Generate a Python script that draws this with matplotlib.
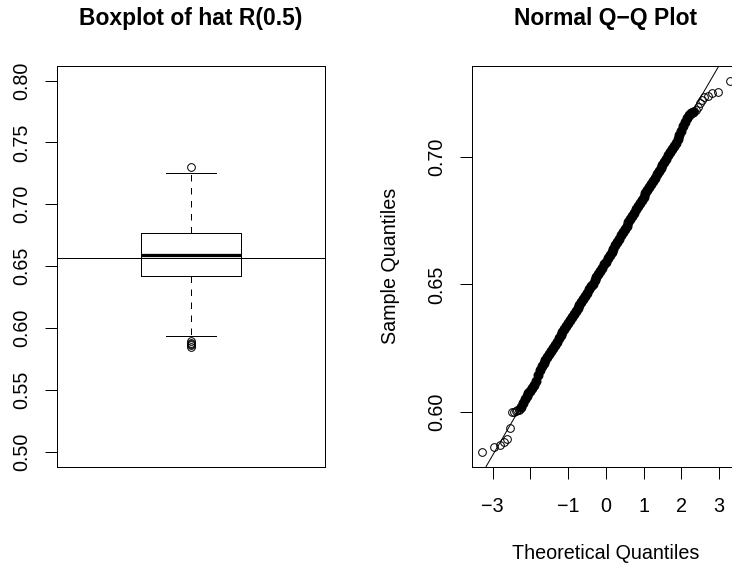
import matplotlib
matplotlib.use("Agg")
import matplotlib.pyplot as plt

plt.rcParams['font.family'] = ['Liberation Sans', 'DejaVu Sans']

# ---------------- data ----------------
# Boxplot of hat R(0.5)
box_whisker_low = 0.5935
box_q1 = 0.6422
box_median = 0.6587
box_q3 = 0.6765
box_whisker_high = 0.7255
box_outliers = [0.5843, 0.5860, 0.5870, 0.5881, 0.5892, 0.7300]
reference_level = 0.6565
box_ylim = [0.50, 0.80]
box_yticks = [0.50, 0.55, 0.60, 0.65, 0.70, 0.75, 0.80]
box_yticklabels = ["0.50", "0.55", "0.60", "0.65", "0.70", "0.75", "0.80"]

# Normal Q-Q plot: sparse tail points (theoretical quantile, sample value)
qq_tail_theoretical = [-3.2905, -2.9677, -2.8070, -2.6968, -2.6121, -2.5427,
                       -2.4838, -2.4324, -2.3867, -2.3455, -2.3077, -2.2733,
                       2.3077, 2.3455, 2.3867, 2.4324, 2.4838, 2.5427,
                       2.6121, 2.6968, 2.8070, 2.9677, 3.2905]
qq_tail_sample = [0.5843, 0.5860, 0.5870, 0.5881, 0.5892, 0.5935,
                  0.5998, 0.6000, 0.6002, 0.6005, 0.6008, 0.6012,
                  0.7177, 0.7180, 0.7185, 0.7195, 0.7210, 0.7222,
                  0.7234, 0.7241, 0.7250, 0.7257, 0.7300]

# dense central band of the Q-Q plot
qq_core_theoretical = [-2.25, -2.20, -2.15, -2.10, -2.05, -2.00, -1.95, -1.90,
                       -1.85, -1.80, -1.75, -1.70, -1.65, -1.60, -1.55, -1.50,
                       -1.45, -1.40, -1.35, -1.30, -1.25, -1.20, -1.15, -1.10,
                       -1.05, -1.00, -0.95, -0.90, -0.85, -0.80, -0.75, -0.70,
                       -0.65, -0.60, -0.55, -0.50, -0.45, -0.40, -0.35, -0.30,
                       -0.25, -0.20, -0.15, -0.10, -0.05, 0.00, 0.05, 0.10,
                       0.15, 0.20, 0.25, 0.30, 0.35, 0.40, 0.45, 0.50,
                       0.55, 0.60, 0.65, 0.70, 0.75, 0.80, 0.85, 0.90,
                       0.95, 1.00, 1.05, 1.10, 1.15, 1.20, 1.25, 1.30,
                       1.35, 1.40, 1.45, 1.50, 1.55, 1.60, 1.65, 1.70,
                       1.75, 1.80, 1.85, 1.90, 1.95, 2.00, 2.05, 2.10,
                       2.15, 2.20, 2.25, 2.30]
qq_core_sample = [0.6018, 0.6035, 0.6050, 0.6063, 0.6073, 0.6081, 0.6094, 0.6105,
                  0.6122, 0.6144, 0.6163, 0.6178, 0.6190, 0.6203, 0.6215, 0.6227,
                  0.6239, 0.6251, 0.6263, 0.6275, 0.6288, 0.6300, 0.6312, 0.6324,
                  0.6336, 0.6348, 0.6360, 0.6372, 0.6384, 0.6396, 0.6408, 0.6420,
                  0.6432, 0.6444, 0.6456, 0.6468, 0.6480, 0.6492, 0.6503, 0.6516,
                  0.6528, 0.6541, 0.6553, 0.6566, 0.6578, 0.6588, 0.6602, 0.6614,
                  0.6627, 0.6640, 0.6653, 0.6666, 0.6679, 0.6692, 0.6705, 0.6718,
                  0.6731, 0.6744, 0.6757, 0.6770, 0.6782, 0.6795, 0.6807, 0.6819,
                  0.6832, 0.6844, 0.6857, 0.6869, 0.6882, 0.6894, 0.6907, 0.6919,
                  0.6932, 0.6944, 0.6957, 0.6969, 0.6982, 0.6994, 0.7006, 0.7018,
                  0.7031, 0.7043, 0.7056, 0.7070, 0.7085, 0.7102, 0.7121, 0.7138,
                  0.7153, 0.7164, 0.7172, 0.7177]

# sample quartiles used by qqline, and the normal quartiles
qq_sample_quartiles = [0.6422, 0.6766]
normal_quartiles = [-0.67449, 0.67449]

qq_xticks = [-3, -2, -1, 0, 1, 2, 3]
qq_xticklabels = ["\u22123", "", "\u22121", "0", "1", "2", "3"]
qq_yticks = [0.60, 0.65, 0.70]
qq_yticklabels = ["0.60", "0.65", "0.70"]

# ---------------- styling ----------------
W, H = 732, 567
DPI = 100
PX = 72.0 / DPI          # points per pixel
FS = 19.8 * PX           # axis text size
TFS = 22.9 * PX          # title size
LW = 1.0 * PX

fig = plt.figure(figsize=(W / DPI, H / DPI), dpi=DPI)
ax_l, ax_top, ax_r_edge, ax_bot = 56.7, 65.7, 325.0, 466.6
aw = (ax_r_edge - ax_l) / W
ah = (ax_bot - ax_top) / H
ab = 1 - ax_bot / H
ax1 = fig.add_axes([ax_l / W, ab, aw, ah])
ax2 = fig.add_axes([471.7 / W, ab, aw, ah])


def r_expand(lo, hi):
    d = (hi - lo) * 0.04
    return lo - d, hi + d


def style_axes(ax):
    for s in ax.spines.values():
        s.set_linewidth(LW)
        s.set_color("black")
    ax.tick_params(direction="out", length=12 * PX, width=LW, colors="black",
                   labelsize=FS)


# ---------------- left: boxplot ----------------
stats = [{
    "med": box_median, "q1": box_q1, "q3": box_q3,
    "whislo": box_whisker_low, "whishi": box_whisker_high,
    "fliers": box_outliers,
}]
ax1.bxp(stats, positions=[1], widths=0.4, showfliers=True,
        boxprops=dict(color="black", linewidth=LW),
        medianprops=dict(color="black", linewidth=3.3 * PX, solid_capstyle="butt"),
        whiskerprops=dict(color="black", linewidth=LW, linestyle=(0, (6.5, 6.5))),
        capprops=dict(color="black", linewidth=LW),
        flierprops=dict(marker="o", markerfacecolor="none", markeredgecolor="black",
                        markersize=7.7 * PX, markeredgewidth=LW))
ax1.axhline(reference_level, color="black", linewidth=LW)
ax1.set_xlim(r_expand(0.5, 1.5))
ax1.set_ylim(r_expand(*box_ylim))
ax1.set_xticks([])
ax1.set_yticks(box_yticks)
ax1.set_yticklabels(box_yticklabels)
style_axes(ax1)
ax1.tick_params(axis="y", pad=13 * PX)
plt.setp(ax1.get_yticklabels(), rotation=90, va="center", ha="right")
ax1.set_title("Boxplot of hat R(0.5)", fontsize=TFS, fontweight="bold",
              pad=40.5 * PX)

# ---------------- right: Normal Q-Q plot ----------------
ax2.plot(qq_core_theoretical, qq_core_sample, linestyle="none", marker="o",
         markersize=9.0 * PX, markerfacecolor="black", markeredgecolor="black",
         markeredgewidth=LW)
ax2.plot(qq_tail_theoretical, qq_tail_sample, linestyle="none", marker="o",
         markersize=7.7 * PX, markerfacecolor="none", markeredgecolor="black",
         markeredgewidth=LW)
slope = (qq_sample_quartiles[1] - qq_sample_quartiles[0]) / (normal_quartiles[1] - normal_quartiles[0])
intercept = qq_sample_quartiles[0] - slope * normal_quartiles[0]
ax2.axline((0, intercept), slope=slope, color="black", linewidth=LW)

all_t = qq_tail_theoretical + qq_core_theoretical
all_v = qq_tail_sample + qq_core_sample
ax2.set_xlim(r_expand(min(all_t), max(all_t)))
ax2.set_ylim(r_expand(min(all_v), max(all_v)))
ax2.set_xticks(qq_xticks)
ax2.set_xticklabels(qq_xticklabels)
ax2.set_yticks(qq_yticks)
ax2.set_yticklabels(qq_yticklabels)
style_axes(ax2)
ax2.tick_params(axis="y", pad=13 * PX)
ax2.tick_params(axis="x", pad=18 * PX)
plt.setp(ax2.get_yticklabels(), rotation=90, va="center", ha="right")
ax2.set_title("Normal Q\u2212Q Plot", fontsize=TFS, fontweight="bold", pad=40.5 * PX)
ax2.set_xlabel("Theoretical Quantiles", fontsize=FS, labelpad=28 * PX)
ax2.set_ylabel("Sample Quantiles", fontsize=FS, labelpad=28 * PX)

fig.savefig("out.png", dpi=DPI)
